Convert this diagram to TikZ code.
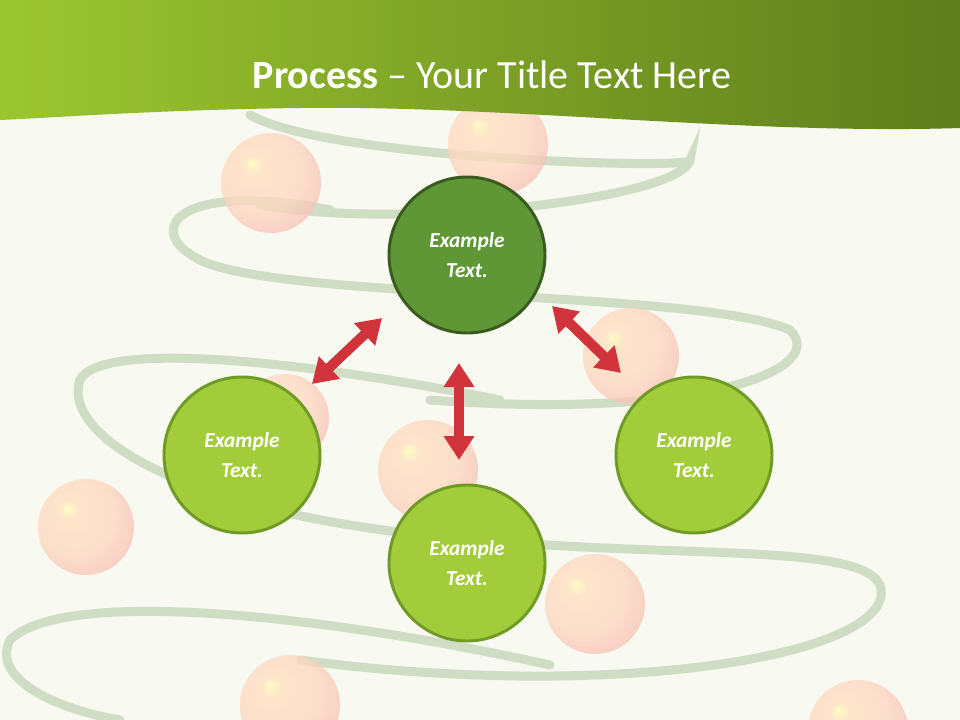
\documentclass[tikz,border=0pt]{standalone}
\usepackage{fontspec}
\setmainfont{Carlito}
\usetikzlibrary{arrows.meta}
\pgfdeclareradialshading{pinkball}{\pgfpoint{-10bp}{10bp}}{
  color(0bp)=(yellow!30!white); color(5bp)=(orange!25!white); color(20bp)=(red!25!orange!25!white); color(40bp)=(red!30!white!90!gray); color(50bp)=(red!25!white!85!gray)}
\begin{document}
\begin{tikzpicture}[x=0.75pt,y=-0.75pt,
  ball/.style={shading=pinkball, opacity=0.75, draw=none},
  bigc/.style={circle, minimum size=156*0.75pt, line width=2.2pt, font=\bfseries\itshape\fontsize{16}{22}\selectfont, text=white, align=center},
  lite/.style={bigc},
  dark/.style={bigc},
  darr/.style={line width=10pt*0.75, {Triangle[length=18pt,width=22pt]}-{Triangle[length=18pt,width=22pt]}}]
\definecolor{bg}{HTML}{F8F9F1}
\definecolor{litec}{HTML}{A3CC3A}
\definecolor{litedr}{HTML}{6F9A25}
\definecolor{darkc}{HTML}{5F9636}
\definecolor{darkdr}{HTML}{3A5A1E}
\definecolor{arr}{HTML}{D0343A}
\definecolor{sw}{HTML}{CFDDC5}
\definecolor{hl}{HTML}{9CC630}
\definecolor{hr}{HTML}{5E7D1C}
\useasboundingbox (0,0) rectangle (960,720);
\fill[bg] (0,0) rectangle (960,720);
% swirls
\begin{scope}[line width=9pt*0.75, line cap=round]
\draw[sw] (250,115) .. controls (330,160) and (700,170) .. (690,160) .. controls (680,200) and (400,230) .. (260,205);
\draw[sw] (330,210) .. controls (180,180) and (140,230) .. (200,260) .. controls (280,300) and (700,290) .. (790,330) .. controls (830,370) and (700,420) .. (430,400);
\draw[sw] (500,400) .. controls (300,360) and (100,340) .. (80,380) .. controls (60,440) and (200,520) .. (480,540) .. controls (700,560) and (900,540) .. (880,600) .. controls (860,660) and (600,700) .. (300,660);
\draw[sw] (550,665) .. controls (300,610) and (60,590) .. (10,640) .. controls (-10,680) and (60,710) .. (120,720);
\end{scope}
% balls
\foreach \p/\r in {{271,183}/50,{498,145}/50,{631,356}/48,{285,418}/44,{86,527}/48,{428,470}/50,{595,604}/50,{290,705}/50,{858,730}/50}
  \shade[ball] (\p) circle (\r);
% header
\shade[left color=hl, right color=hr] (0,0) -- (960,0) -- (960,128) .. controls (750,135) and (500,105) .. (300,108) .. controls (150,110) and (50,118) .. (0,120) -- cycle;
\node[text=white, font=\fontsize{30}{34}\selectfont] (title) at (492,75) {\textbf{Process} – Your Title Text Here};
% circles
\node[dark, fill=darkc, draw=darkdr] (top) at (467,255) {Example\\Text.};
\node[lite, fill=litec, draw=litedr] (left) at (242,455) {Example\\Text.};
\node[lite, fill=litec, draw=litedr] (bot) at (467,563) {Example\\Text.};
\node[lite, fill=litec, draw=litedr] (right) at (694,455) {Example\\Text.};
\coordinate (a1) at (382,318); \coordinate (a2) at (312,384);
\coordinate (b1) at (459,363); \coordinate (b2) at (459,460);
\coordinate (c1) at (552,306); \coordinate (c2) at (621,373);
\draw[darr, draw=arr, fill=arr] (a1) -- (a2);
\draw[darr, draw=arr, fill=arr] (b1) -- (b2);
\draw[darr, draw=arr, fill=arr] (c1) -- (c2);
\end{tikzpicture}
\end{document}
